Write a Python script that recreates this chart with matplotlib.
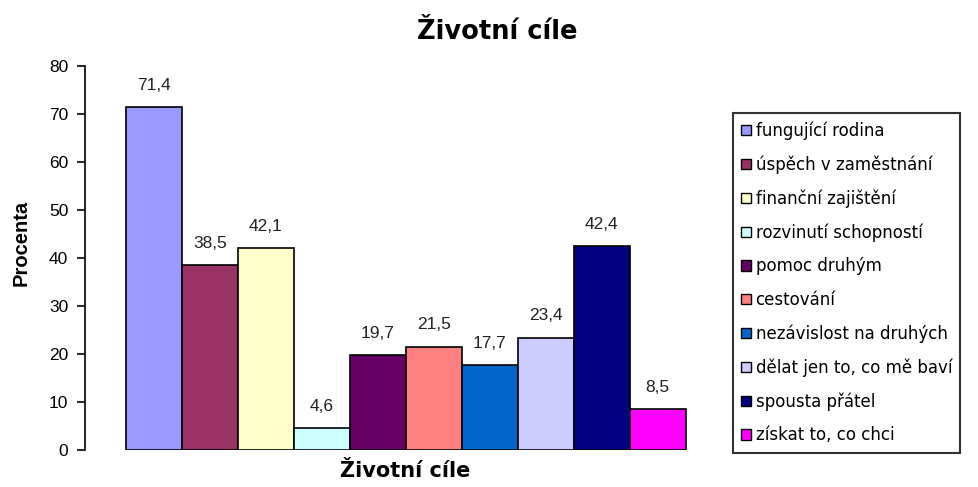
import matplotlib
matplotlib.use("Agg")
from matplotlib import pyplot as plt
from matplotlib.patches import Patch

plt.rcParams['font.family'] = ['Liberation Sans', 'DejaVu Sans']

categories = ["fungující rodina", "úspěch v zaměstnání", "finanční zajištění",
              "rozvinutí schopností", "pomoc druhým", "cestování",
              "nezávislost na druhých", "dělat jen to, co mě baví",
              "spousta přátel", "získat to, co chci"]
values = [71.4, 38.5, 42.1, 4.6, 19.7, 21.5, 17.7, 23.4, 42.4, 8.5]
colors = ["#9999FF", "#993366", "#FFFFCC", "#CCFFFF", "#660066",
          "#FF8080", "#0066CC", "#CCCCFF", "#000080", "#FF00FF"]

fig = plt.figure(figsize=(9.79, 4.87), dpi=100)
ax = fig.add_axes([85 / 979, 1 - 450 / 487, 640 / 979, 384 / 487])

x = range(len(values))
ax.bar(x, values, width=1.0, color=colors, edgecolor="black", linewidth=1.2)

# popisky hodnot nad sloupci, s desetinnou čárkou
for i, v in zip(x, values):
    ax.text(i, v + 3.0, f"{v:.1f}".replace(".", ","), ha="center", va="bottom",
            fontsize=12.5, color="#222222")

ax.set_xlim(-1.23, 10.2)
ax.set_ylim(0, 80)
ax.set_yticks(range(0, 81, 10))
ax.set_xticks([])
ax.tick_params(axis="y", labelsize=12.5, length=6, width=1.2, direction="out", pad=6)

for s in ["top", "right", "bottom"]:
    ax.spines[s].set_visible(False)
ax.spines["left"].set_linewidth(1.2)

ax.set_ylabel("Procenta", fontsize=14.5, fontweight="bold")
ax.yaxis.set_label_coords(-0.085, 0.54)
ax.set_xlabel("Životní cíle", fontsize=15, fontweight="bold", labelpad=8,
              family="DejaVu Sans")
fig.text(497 / 979, 1 - 32 / 487, "Životní cíle", ha="center", va="center",
         fontsize=18.5, fontweight="bold", family="DejaVu Sans")

handles = [Patch(facecolor=c, edgecolor="black", linewidth=1) for c in colors]
leg = fig.legend(handles, categories, loc="upper left",
                 bbox_to_anchor=(733 / 979, 1 - 113 / 487), borderaxespad=0,
                 prop={"family": "DejaVu Sans", "size": 12},
                 handlelength=0.6, handleheight=0.6,
                 handletextpad=0.25, labelspacing=0.93, borderpad=0.5,
                 fancybox=False, frameon=True)
leg.get_frame().set_edgecolor("black")
leg.get_frame().set_linewidth(1.5)

plt.savefig("out.png", dpi=100)
